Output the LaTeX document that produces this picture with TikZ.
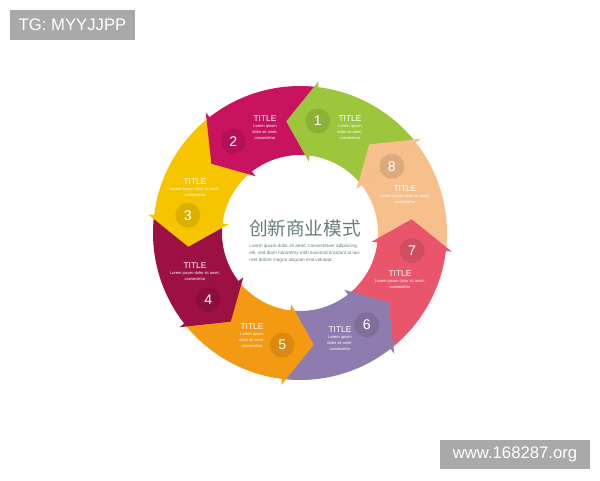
\documentclass[tikz,border=0pt]{standalone}
\usepackage{fontspec}
\setmainfont{Liberation Sans}
\newfontfamily\cjk{Noto Sans CJK SC}
\usepackage{tikz}
\usetikzlibrary{calc,positioning}

\definecolor{segA}{HTML}{9DC63C}
\definecolor{segB}{HTML}{C8135F}
\definecolor{segC}{HTML}{F6C500}
\definecolor{segD}{HTML}{9C1043}
\definecolor{segE}{HTML}{F39A12}
\definecolor{segF}{HTML}{8F7CAE}
\definecolor{segG}{HTML}{E9566B}
\definecolor{segH}{HTML}{F6BF8C}
\definecolor{tagbg}{HTML}{A9A9A9}
\definecolor{hubtext}{HTML}{687C7C}

\begin{document}
\begin{tikzpicture}[
  tag/.style={fill=tagbg, text=white, inner sep=0pt, font=\fontsize{9.5}{11}\selectfont},
  numdot/.style={circle, fill=black, fill opacity=.1, text opacity=1, text=white,
    minimum size=0.5cm, inner sep=0pt, font=\fontsize{8}{9}\selectfont},
  blurb/.style={text=white, align=center, inner sep=0pt, font=\fontsize{2.3}{3.4}\selectfont}]
\useasboundingbox (-6,-4.94) rectangle (6,4.66);

% watermarks
\node[tag, minimum width=2.5cm, minimum height=0.6cm] (tg) at (-4.55,4.16) {TG: MYYJJPP};
\node[tag, minimum width=3cm, minimum height=0.58cm] (web) at (4.3,-4.43) {www.168287.org};

% ring of arrows, last one first
\foreach \b/\c in {38/segH, 353/segG, 308/segF, 263/segE, 218/segD, 173/segC, 128/segB, 83/segA}
  \fill[\c] (\b-45:1.56) arc[start angle=\b-45, end angle=\b, radius=1.56]
    -- (\b:1.44) -- (\b+14:2.25) -- (\b:3.06) -- (\b:2.94)
    arc[start angle=\b, end angle=\b-45, radius=2.94] -- cycle;
% head of 8 goes over the tail of 1
\fill[segH] (38:1.44) -- (52:2.25) -- (38:3.06) -- cycle;

% numbers
\foreach \n/\b in {1/83, 2/128, 3/173, 4/218, 5/263, 6/308, 7/353, 8/38}
  \node[numdot] (num\n) at (\b-2:2.27) {\n};

% titles
\node[blurb] (txt1) at (1.0,2.1) {{\fontsize{4.8}{6}\selectfont TITLE}\\Lorem ipsum\\dolor sit amet,\\consectetur};
\node[blurb] (txt2) at (-0.7,2.1) {{\fontsize{4.8}{6}\selectfont TITLE}\\Lorem ipsum\\dolor sit amet,\\consectetur};
\node[blurb] (txt3) at (-2.1,0.9) {{\fontsize{4.8}{6}\selectfont TITLE}\\Lorem ipsum dolor sit amet,\\consectetur};
\node[blurb] (txt4) at (-2.1,-0.78) {{\fontsize{4.8}{6}\selectfont TITLE}\\Lorem ipsum dolor sit amet,\\consectetur};
\node[blurb] (txt5) at (-0.96,-2.06) {{\fontsize{4.8}{6}\selectfont TITLE}\\Lorem ipsum\\dolor sit amet,\\consectetur};
\node[blurb] (txt6) at (0.8,-2.12) {{\fontsize{4.8}{6}\selectfont TITLE}\\Lorem ipsum\\dolor sit amet,\\consectetur};
\node[blurb] (txt7) at (2.0,-0.94) {{\fontsize{4.8}{6}\selectfont TITLE}\\Lorem ipsum dolor sit amet,\\consectetur};
\node[blurb] (txt8) at (2.1,0.76) {{\fontsize{4.8}{6}\selectfont TITLE}\\Lorem ipsum dolor sit amet,\\consectetur};

% hub
\node[text=hubtext, inner sep=0pt, font=\cjk\fontsize{10.6}{12}\selectfont] (hub) at (0.1,0.1) {创新商业模式};
\node[below=0.14cm of hub, text=hubtext, align=left, inner sep=0pt, font=\fontsize{2.65}{4}\selectfont] (hubtxt)
  {Lorem ipsum dolor sit amet, consectetuer adipiscing\\elit, sed diam nonummy nibh euismod tincidunt ut lao-\\reet dolore magna aliquam erat volutpat.};
\end{tikzpicture}
\end{document}
